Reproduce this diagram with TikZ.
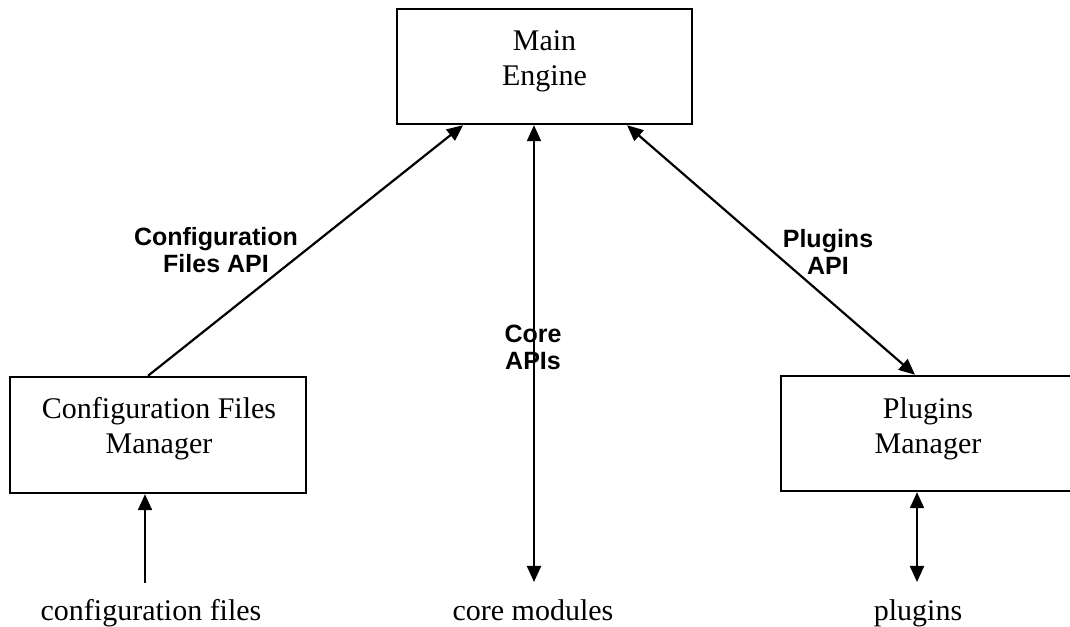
\documentclass[tikz,border=0pt]{standalone}
\usepackage{fontspec}
\setmainfont{Liberation Serif}
\newfontfamily\labfont{Liberation Sans}
\usetikzlibrary{arrows.meta,calc}
\begin{document}
\begin{tikzpicture}[x=1pt,y=-1pt,
  >={Triangle[length=16pt,width=14pt]},
  box/.style={draw,line width=2.4pt,inner sep=0pt},
  boxtext/.style={font=\fontsize{30}{35}\selectfont,align=center,inner sep=0pt},
  apilab/.style={font=\labfont\bfseries\fontsize{25}{27}\selectfont,align=center,inner sep=0pt},
  endtext/.style={font=\fontsize{30}{35}\selectfont,inner sep=0pt,anchor=base},
  conn/.style={line width=2.2pt}
]
\useasboundingbox[fill=white] (0,0) rectangle (1070,626);
% boxes
\node[box,minimum width=295pt,minimum height=115pt] (main) at (544.5,66.5) {};
\node[boxtext] (maintext) at (544.5,61) {Main\\Engine};
\node[box,minimum width=296pt,minimum height=116pt] (cfg) at (158,435) {};
\node[boxtext] (cfgtext) at (159,429) {Configuration Files\\Manager};
\node[box,minimum width=294pt,minimum height=115pt] (plg) at (928,433.5) {};
\node[boxtext] (plgtext) at (928,429) {Plugins\\Manager};
% bottom texts
\node[endtext] (cfiles) at (151,620) {configuration files};
\node[endtext] (cmods) at (533,620) {core modules};
\node[endtext] (plugs) at (918,620) {plugins};
% api labels
\node[apilab] (cfgapi) at (216,250) {Configuration\\Files API};
\node[apilab] (plgapi) at (828,252) {Plugins\\API};
\node[apilab] (coreapi) at (533,347) {Core\\APIs};
% connectors
\draw[conn,->] ([xshift=-10pt]cfg.north) -- ([xshift=-81.5pt]main.south);
\draw[conn,<->] ([xshift=-10.5pt]main.south) -- ([xshift=1pt,yshift=17pt]cmods.north);
\draw[conn,<->] ([xshift=82.5pt]main.south) -- ([xshift=-13pt]plg.north);
\draw[conn,->] ([xshift=-6pt,yshift=16pt]cfiles.north) -- ([xshift=-13pt]cfg.south);
\draw[conn,<->] ([xshift=-11pt]plg.south) -- ([xshift=-1pt,yshift=17pt]plugs.north);
\end{tikzpicture}
\end{document}
